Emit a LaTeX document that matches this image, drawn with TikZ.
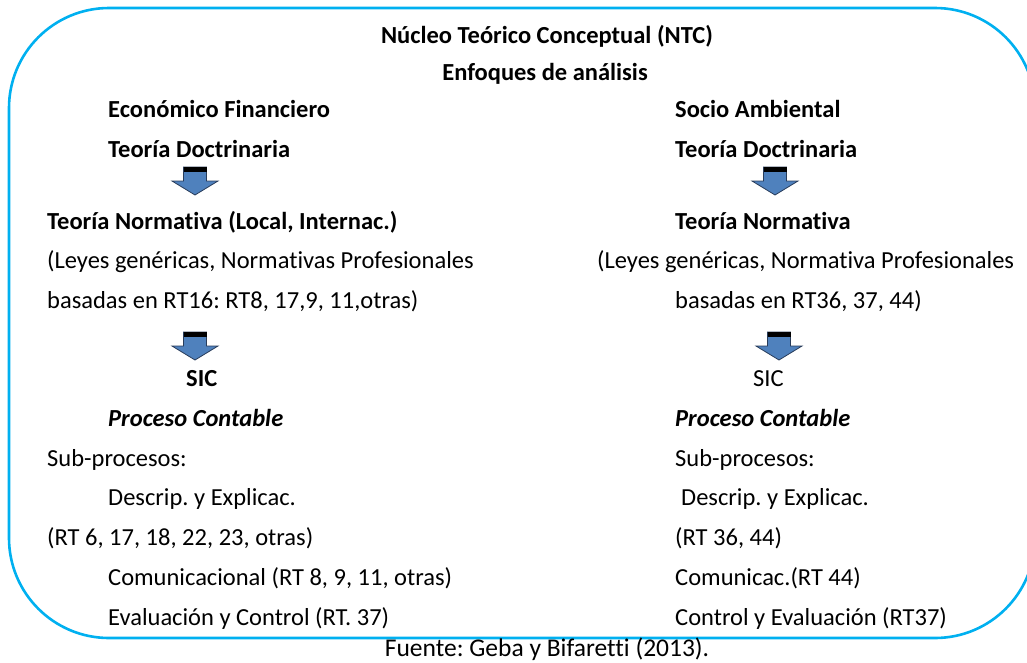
\documentclass[tikz,border=0pt]{standalone}
\usepackage{fontspec}
\setmainfont{Carlito}[Ligatures={NoCommon}]
\frenchspacing
\definecolor{frameblue}{RGB}{0,176,240}
\definecolor{arrowblue}{RGB}{79,129,189}
\definecolor{arrowedge}{RGB}{40,60,90}
\begin{document}
\begin{tikzpicture}[x=1pt,y=-1pt,
  txt/.style={anchor=base west,inner sep=0pt,font=\fontsize{24.5}{28}\selectfont},
  btxt/.style={txt,font=\fontsize{24.5}{28}\selectfont\bfseries},
  bitxt/.style={txt,font=\fontsize{24.5}{28}\selectfont\bfseries\itshape},
  ctxt/.style={anchor=base,inner sep=0pt,font=\fontsize{24.5}{28}\selectfont\bfseries},
  downarrow/.pic={
    \fill[arrowblue,draw=arrowedge,line width=0.8pt,line join=miter]
      (-11.5,0) -- (11.5,0) -- (11.5,14) -- (23,14) -- (0,28) -- (-23,14) -- (-11.5,14) -- cycle;
    \fill[black] (-11.5,0) rectangle (11.5,5);
  }]
\useasboundingbox (0,0) rectangle (1027,662);
\begin{scope}
  \clip (0,0) rectangle (1027,662);
  \draw[frameblue,line width=2.6pt,rounded corners=100pt] (9,8) rectangle (1035,638);
\end{scope}
% title
\node[ctxt] (title) at (547,43) {Núcleo Teórico Conceptual (NTC)};
\node[ctxt] (enf) at (545,80) {Enfoques de análisis};
% left column
\node[btxt] (ef) at (108,117) {Económico Financiero};
\node[btxt] (tdl) at (108,157) {Teoría Doctrinaria};
\pic at (195,167) {downarrow};
\node[btxt] (tnl) at (47,229) {Teoría Normativa (Local, Internac.)};
\node[txt] (lyl) at (47,268) {(Leyes genéricas, Normativas Profesionales};
\node[txt] (bsl) at (47,308) {basadas en RT16: RT8, 17,9, 11,otras)};
\pic at (195,332) {downarrow};
\node[btxt] (sicl) at (186,386) {SIC};
\node[bitxt] (pcl) at (108,426) {Proceso Contable};
\node[txt] (spl) at (47,466) {Sub-procesos:};
\node[txt] (del) at (108,505) {Descrip. y Explicac.};
\node[txt] (rtl) at (47,545) {(RT 6, 17, 18, 22, 23, otras)};
\node[txt] (col) at (108,585) {Comunicacional (RT 8, 9, 11, otras)};
\node[txt] (evl) at (108,625) {Evaluación y Control (RT. 37)};
% right column
\node[btxt] (sa) at (675,117) {Socio Ambiental};
\node[btxt] (tdr) at (675,157) {Teoría Doctrinaria};
\pic at (775,167) {downarrow};
\node[btxt] (tnr) at (675,229) {Teoría Normativa};
\node[txt] (lyr) at (597,268) {(Leyes genéricas, Normativa Profesionales};
\node[txt] (bsr) at (675,308) {basadas en RT36, 37, 44)};
\pic at (779,332) {downarrow};
\node[txt] (sicr) at (753,386) {SIC};
\node[bitxt] (pcr) at (675,426) {Proceso Contable};
\node[txt] (spr) at (675,466) {Sub-procesos:};
\node[txt] (der) at (681,505) {Descrip. y Explicac.};
\node[txt] (rtr) at (675,545) {(RT 36, 44)};
\node[txt] (cor) at (675,585) {Comunicac.(RT 44)};
\node[txt] (evr) at (675,625) {Control y Evaluación (RT37)};
% source
\node[anchor=base,inner sep=0pt,font=\fontsize{25.5}{29}\selectfont] (src) at (547,656) {Fuente: Geba y Bifaretti (2013).};
\end{tikzpicture}
\end{document}
